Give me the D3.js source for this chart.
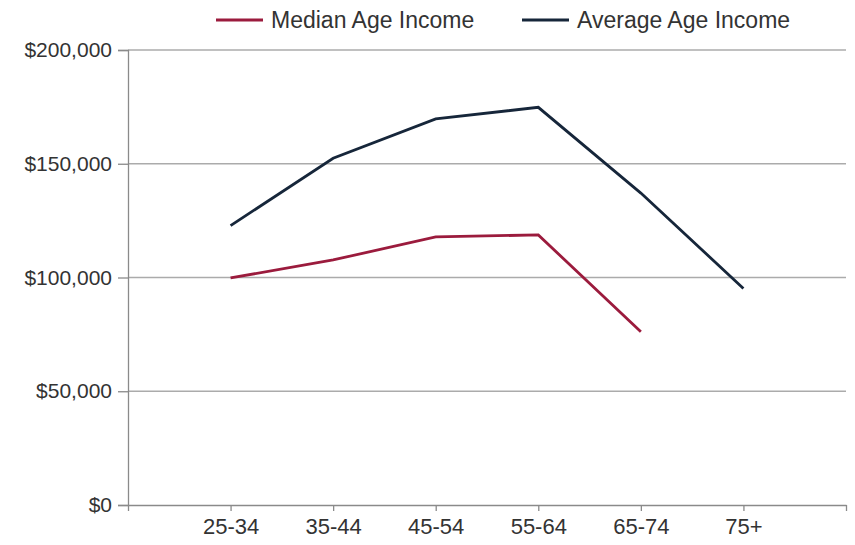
<!DOCTYPE html>
<html>
<head>
<meta charset="utf-8">
<script src="https://cdn.jsdelivr.net/npm/d3@7"></script>
<style>
  html, body { margin: 0; padding: 0; background: #fff; }
  svg { display: block; }
  text { font-family: "Liberation Sans", Arial, sans-serif; fill: #333; }
</style>
</head>
<body>
<svg id="chart" width="855" height="545"></svg>
<script>
const categories = ["25-34", "35-44", "45-54", "55-64", "65-74", "75+"];
const medianIncome = [99800, 107700, 117900, 118700, 76200];
const averageIncome = [122800, 152400, 169700, 174800, 137100, 95200];
const yTicks = [0, 50000, 100000, 150000, 200000];
const seriesNames = ["Median Age Income", "Average Age Income"];
const seriesColors = ["#9b1b3d", "#16263a"];

(function () {
const svg = d3.select("#chart");
const mLeft = 128, mRight = 846, mTop = 50, mBottom = 505;

// categories sit at positions 1..n on a 0..n+1 slot axis
const x = d3.scaleLinear().domain([0, categories.length + 1]).range([mLeft, mRight]);
const y = d3.scaleLinear().domain([0, 200000]).range([mBottom, mTop]);

// gridlines
svg.append("g")
  .selectAll("line")
  .data(yTicks.filter(d => d > 0))
  .join("line")
  .attr("x1", mLeft).attr("x2", mRight)
  .attr("y1", d => y(d)).attr("y2", d => y(d))
  .attr("stroke", "#ababab").attr("stroke-width", 1.3);

// y axis
const yAxis = d3.axisLeft(y).tickValues(yTicks).tickSize(10).tickPadding(6)
  .tickFormat(d => "$" + d3.format(",")(d));
const gy = svg.append("g").attr("transform", `translate(${mLeft},0)`).call(yAxis);
gy.select(".domain").attr("stroke", "#8a8a8a").attr("stroke-width", 1.3);
gy.selectAll(".tick line").attr("stroke", "#8a8a8a").attr("stroke-width", 1.3);
gy.selectAll("text").style("font-size", "21px").attr("fill", "#333");

// x axis
const xTickVals = d3.range(0, categories.length + 2);
const xAxis = d3.axisBottom(x).tickValues(xTickVals).tickSize(6).tickPadding(7)
  .tickSizeOuter(0)
  .tickFormat(d => (d >= 1 && d <= categories.length) ? categories[d - 1] : "");
const gx = svg.append("g").attr("transform", `translate(0,${mBottom})`).call(xAxis);
gx.select(".domain").attr("stroke", "#8a8a8a").attr("stroke-width", 1.3);
gx.selectAll(".tick line").attr("stroke", "#8a8a8a").attr("stroke-width", 1.3);
gx.selectAll("text").style("font-size", "22px").attr("fill", "#333");

// lines
const line = d3.line().x((d, i) => x(i + 1)).y(d => y(d));
[medianIncome, averageIncome].forEach((vals, k) => {
  svg.append("path")
    .datum(vals)
    .attr("d", line)
    .attr("fill", "none")
    .attr("stroke", seriesColors[k])
    .attr("stroke-width", 2.8)
    .attr("stroke-linejoin", "miter");
});

// legend
const legendX = [216, 522];
const lg = svg.append("g");
seriesNames.forEach((name, k) => {
  lg.append("line")
    .attr("x1", legendX[k]).attr("x2", legendX[k] + 47)
    .attr("y1", 20).attr("y2", 20)
    .attr("stroke", seriesColors[k]).attr("stroke-width", 3);
  lg.append("text")
    .attr("x", legendX[k] + 55).attr("y", 20)
    .attr("dy", "0.35em")
    .style("font-size", "23px")
    .text(name);
});
})();
</script>
</body>
</html>
